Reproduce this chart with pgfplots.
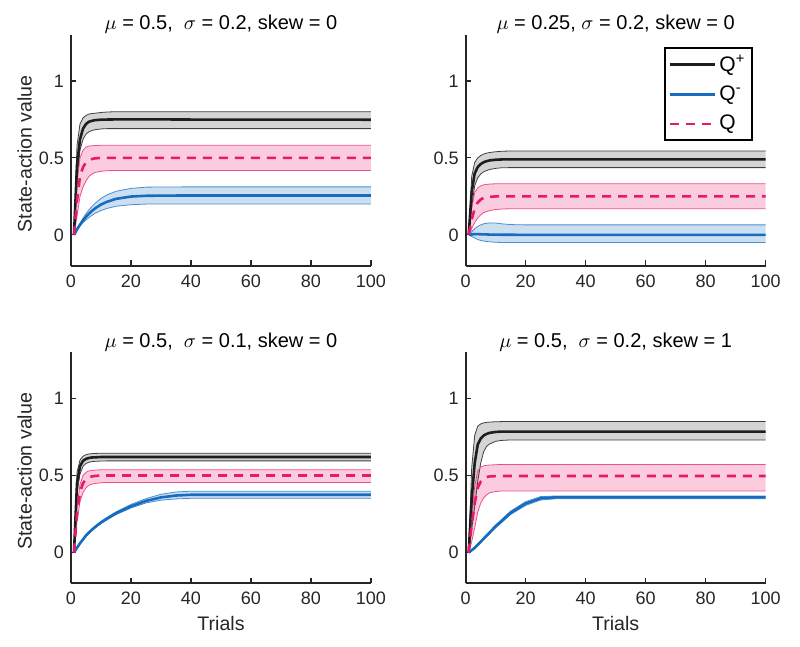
\documentclass[border=0pt]{standalone}
\usepackage{pgfplots}
\pgfplotsset{compat=1.18}
\usepackage{pgfplotstable}
\usepackage{fontspec}
\setmainfont{Liberation Sans}
\definecolor{axgray}{RGB}{38,38,38}
\definecolor{qpcol}{RGB}{30,30,30}
\definecolor{pinkcol}{RGB}{232,24,106}
\definecolor{bluecol}{RGB}{22,108,190}
\definecolor{pinkedge}{RGB}{236,80,136}
\definecolor{blueedge}{RGB}{74,142,208}

\pgfplotstableread{
t pm pu pl qm qu ql nm nu nl
1 0 0 0 0 0 0 0 0 0
2 0.45 0.58 0.35 0.22 0.33 0.12 0.035 0.040 0.030
3 0.62 0.72 0.55 0.38 0.50 0.25 0.066 0.075 0.058
4 0.69 0.76 0.62 0.44 0.55 0.31 0.093 0.108 0.080
5 0.72 0.775 0.655 0.47 0.57 0.35 0.117 0.138 0.097
6 0.735 0.785 0.67 0.485 0.577 0.38 0.138 0.163 0.113
7 0.741 0.788 0.678 0.493 0.579 0.395 0.156 0.185 0.127
8 0.745 0.79 0.683 0.497 0.58 0.405 0.172 0.205 0.140
10 0.748 0.795 0.688 0.5 0.582 0.413 0.197 0.237 0.158
12 0.749 0.798 0.69 0.5 0.582 0.417 0.215 0.260 0.172
15 0.75 0.80 0.69 0.5 0.582 0.418 0.234 0.283 0.186
20 0.75 0.80 0.69 0.5 0.582 0.418 0.249 0.302 0.196
25 0.75 0.80 0.69 0.5 0.582 0.418 0.254 0.310 0.200
30 0.75 0.80 0.69 0.5 0.582 0.418 0.255 0.311 0.200
40 0.749 0.80 0.69 0.5 0.582 0.418 0.256 0.312 0.200
100 0.748 0.80 0.69 0.5 0.582 0.418 0.256 0.312 0.200
}\tA

\pgfplotstableread{
t pm pu pl qm qu ql nm nu nl
1 0 0 0 0 0 0 0 0 0
2 0.28 0.38 0.18 0.10 0.17 0.04 0.003 0.02 -0.01
3 0.40 0.47 0.32 0.17 0.275 0.08 0.005 0.04 -0.02
4 0.44 0.50 0.37 0.21 0.305 0.11 0.005 0.055 -0.03
5 0.46 0.515 0.395 0.23 0.318 0.13 0.004 0.065 -0.036
6 0.472 0.525 0.41 0.24 0.325 0.145 0.003 0.072 -0.04
7 0.479 0.531 0.418 0.245 0.328 0.152 0.003 0.076 -0.043
8 0.484 0.535 0.425 0.247 0.33 0.158 0.002 0.078 -0.045
10 0.488 0.54 0.432 0.25 0.332 0.165 0.002 0.077 -0.048
12 0.49 0.543 0.436 0.25 0.332 0.168 0.001 0.072 -0.049
15 0.49 0.545 0.437 0.25 0.332 0.17 0.001 0.067 -0.05
20 0.49 0.545 0.437 0.25 0.332 0.17 0.0 0.065 -0.05
100 0.49 0.545 0.437 0.25 0.332 0.17 0.0 0.065 -0.05
}\tB

\pgfplotstableread{
t pm pu pl qm qu ql nm nu nl
1 0 0 0 0 0 0 0 0 0
2 0.45 0.52 0.38 0.25 0.30 0.20 0.03 0.033 0.027
3 0.56 0.60 0.51 0.39 0.44 0.33 0.06 0.064 0.056
4 0.595 0.625 0.56 0.45 0.50 0.39 0.085 0.09 0.08
5 0.608 0.635 0.578 0.475 0.52 0.42 0.11 0.115 0.105
6 0.614 0.64 0.586 0.488 0.53 0.437 0.13 0.136 0.124
7 0.617 0.642 0.59 0.494 0.533 0.444 0.148 0.154 0.142
8 0.618 0.643 0.592 0.497 0.535 0.448 0.165 0.171 0.159
10 0.62 0.645 0.594 0.5 0.537 0.453 0.195 0.202 0.188
12 0.62 0.645 0.595 0.5 0.537 0.455 0.22 0.228 0.212
15 0.62 0.645 0.595 0.5 0.537 0.455 0.255 0.264 0.246
20 0.62 0.645 0.595 0.5 0.537 0.455 0.30 0.312 0.289
25 0.62 0.645 0.595 0.5 0.537 0.455 0.335 0.35 0.322
30 0.62 0.645 0.595 0.5 0.537 0.455 0.358 0.378 0.34
35 0.62 0.645 0.595 0.5 0.537 0.455 0.37 0.393 0.348
40 0.62 0.645 0.595 0.5 0.537 0.455 0.375 0.398 0.352
100 0.62 0.645 0.595 0.5 0.537 0.455 0.375 0.398 0.352
}\tC

\pgfplotstableread{
t pm pu pl qm qu ql nm nu nl
1 0 0 0 0 0 0 0 0 0
2 0.35 0.55 0.15 0.18 0.25 0.07 0.015 0.017 0.013
3 0.58 0.76 0.30 0.32 0.43 0.16 0.03 0.033 0.027
4 0.70 0.82 0.46 0.42 0.53 0.26 0.05 0.054 0.046
5 0.74 0.835 0.58 0.46 0.555 0.32 0.07 0.075 0.065
6 0.76 0.842 0.655 0.48 0.563 0.355 0.09 0.096 0.084
7 0.77 0.845 0.69 0.49 0.566 0.375 0.11 0.117 0.103
8 0.777 0.847 0.705 0.494 0.568 0.388 0.13 0.138 0.122
10 0.783 0.849 0.722 0.496 0.57 0.396 0.17 0.179 0.161
12 0.785 0.85 0.728 0.497 0.572 0.40 0.205 0.215 0.195
15 0.785 0.851 0.731 0.497 0.572 0.40 0.258 0.269 0.247
20 0.785 0.851 0.731 0.497 0.572 0.40 0.318 0.33 0.306
25 0.785 0.851 0.731 0.497 0.572 0.40 0.352 0.363 0.341
30 0.785 0.851 0.731 0.497 0.572 0.40 0.358 0.367 0.349
100 0.785 0.851 0.731 0.497 0.572 0.40 0.358 0.367 0.349
}\tD

\pgfplotsset{
  panel/.style={
    scale only axis, width=150pt, height=115.5pt,
    xmin=0, xmax=100, ymin=-0.2, ymax=1.3,
    axis x line=bottom, axis y line=left,
    axis line style={-, line width=0.9pt, color=axgray},
    xtick={0,20,40,60,80,100}, ytick={0,0.5,1},
    tick align=inside, major tick length=2.6pt,
    tick style={line width=0.6pt, color=axgray},
    ticklabel style={font=\fontsize{9}{10}\selectfont, text=axgray},
    xticklabel style={yshift=-1pt},
    /pgf/number format/assume math mode=true,
    every axis title shift=0pt,
    title style={at={(axis description cs:0.5,1)}, anchor=base, yshift=2.6pt,
      font=\fontsize{10}{12}\selectfont, text=black},
    label style={font=\fontsize{9.8}{11}\selectfont, text=axgray},
    xlabel style={at={(axis description cs:0.5,0)}, anchor=base, yshift=-23.4pt},
    ylabel style={at={(axis description cs:-0.155,0.485)}, anchor=center},
  },
}

% #1 table, #2 grey band polygon, #3 pink band polygon, #4 blue band polygon
\newcommand{\drawpanel}[4]{%
  \addplot[forget plot, fill=black, fill opacity=0.17, draw=none] coordinates {#2};
  \addplot[forget plot, fill=pinkcol, fill opacity=0.22, draw=none] coordinates {#3};
  \addplot[forget plot, fill=bluecol, fill opacity=0.22, draw=none] coordinates {#4};
  \addplot[forget plot, draw=qpcol!85, line width=0.4pt] table[x=t,y=pu]{#1};
  \addplot[forget plot, draw=qpcol!85, line width=0.4pt] table[x=t,y=pl]{#1};
  \addplot[forget plot, draw=pinkedge, line width=0.4pt] table[x=t,y=qu]{#1};
  \addplot[forget plot, draw=pinkedge, line width=0.4pt] table[x=t,y=ql]{#1};
  \addplot[forget plot, draw=blueedge, line width=0.4pt] table[x=t,y=nu]{#1};
  \addplot[forget plot, draw=blueedge, line width=0.4pt] table[x=t,y=nl]{#1};
  \addplot[color=qpcol, line width=1.3pt] table[x=t,y=pm]{#1};
  \addplot[color=bluecol, line width=1.3pt] table[x=t,y=nm]{#1};
  \addplot[color=pinkcol, line width=1.3pt, dash pattern=on 4.5pt off 3.5pt] table[x=t,y=qm]{#1};
}

\begin{document}
\begin{tikzpicture}
\path (0,0) rectangle (400pt,-323.5pt);

\begin{axis}[panel, at={(35.5pt,-132.85pt)}, anchor=south west,
  title={$\mu$ = 0.5,\ \ $\sigma$ = 0.2, skew = 0},
  ylabel={State-action value}]
\drawpanel{\tA}
 {(1,0)(2,0.58)(3,0.72)(4,0.76)(5,0.775)(6,0.785)(7,0.788)(8,0.79)(10,0.795)(12,0.798)(15,0.8)(100,0.8)(100,0.69)(12,0.69)(10,0.688)(8,0.683)(7,0.678)(6,0.67)(5,0.655)(4,0.62)(3,0.55)(2,0.35)}
 {(1,0)(2,0.33)(3,0.5)(4,0.55)(5,0.57)(6,0.577)(7,0.579)(8,0.58)(10,0.582)(100,0.582)(100,0.418)(15,0.418)(12,0.417)(10,0.413)(8,0.405)(7,0.395)(6,0.38)(5,0.35)(4,0.31)(3,0.25)(2,0.12)}
 {(1,0)(2,0.04)(3,0.075)(4,0.108)(5,0.138)(6,0.163)(7,0.185)(8,0.205)(10,0.237)(12,0.26)(15,0.283)(20,0.302)(25,0.31)(30,0.311)(40,0.312)(100,0.312)(100,0.2)(25,0.2)(20,0.196)(15,0.186)(12,0.172)(10,0.158)(8,0.14)(7,0.127)(6,0.113)(5,0.097)(4,0.08)(3,0.058)(2,0.03)}
\end{axis}

\begin{axis}[panel, at={(232.85pt,-132.85pt)}, anchor=south west,
  title={$\mu$ = 0.25, $\sigma$ = 0.2, skew = 0},
  legend style={at={(axis description cs:0.958,0.946)}, anchor=north east,
    draw=black, line width=0.9pt, fill=white,
    font=\fontsize{10.5}{12}\selectfont, row sep=2.6pt, inner sep=1.8pt,
    nodes={inner sep=1.6pt}},
  legend cell align=left,
  legend image code/.code={\draw[#1, line width=1.3pt] (0pt,0pt) -- (22.5pt,0pt);},
  legend entries={Q\textsuperscript{+},Q\textsuperscript{-},Q}]
\drawpanel{\tB}
 {(1,0)(2,0.38)(3,0.47)(4,0.5)(5,0.515)(6,0.525)(7,0.531)(8,0.535)(10,0.54)(12,0.543)(15,0.545)(100,0.545)(100,0.437)(15,0.437)(12,0.436)(10,0.432)(8,0.425)(7,0.418)(6,0.41)(5,0.395)(4,0.37)(3,0.32)(2,0.18)}
 {(1,0)(2,0.17)(3,0.275)(4,0.305)(5,0.318)(6,0.325)(7,0.328)(8,0.33)(10,0.332)(100,0.332)(100,0.17)(15,0.17)(12,0.168)(10,0.165)(8,0.158)(7,0.152)(6,0.145)(5,0.13)(4,0.11)(3,0.08)(2,0.04)}
 {(1,0)(2,0.02)(3,0.04)(4,0.055)(5,0.065)(6,0.072)(7,0.076)(8,0.078)(10,0.077)(12,0.072)(15,0.067)(20,0.065)(100,0.065)(100,-0.05)(15,-0.05)(12,-0.049)(10,-0.048)(8,-0.045)(7,-0.043)(6,-0.04)(5,-0.036)(4,-0.03)(3,-0.02)(2,-0.01)}
\end{axis}

\begin{axis}[panel, at={(35.5pt,-291.65pt)}, anchor=south west,
  title={$\mu$ = 0.5,\ \ $\sigma$ = 0.1, skew = 0},
  ylabel={State-action value}, xlabel={Trials}]
\drawpanel{\tC}
 {(1,0)(2,0.52)(3,0.6)(4,0.625)(5,0.635)(6,0.64)(7,0.642)(8,0.643)(10,0.645)(100,0.645)(100,0.595)(12,0.595)(10,0.594)(8,0.592)(7,0.59)(6,0.586)(5,0.578)(4,0.56)(3,0.51)(2,0.38)}
 {(1,0)(2,0.3)(3,0.44)(4,0.5)(5,0.52)(6,0.53)(7,0.533)(8,0.535)(10,0.537)(100,0.537)(100,0.455)(12,0.455)(10,0.453)(8,0.448)(7,0.444)(6,0.437)(5,0.42)(4,0.39)(3,0.33)(2,0.2)}
 {(1,0)(2,0.033)(3,0.064)(4,0.09)(5,0.115)(6,0.136)(7,0.154)(8,0.171)(10,0.202)(12,0.228)(15,0.264)(20,0.312)(25,0.35)(30,0.378)(35,0.393)(40,0.398)(100,0.398)(100,0.352)(40,0.352)(35,0.348)(30,0.34)(25,0.322)(20,0.289)(15,0.246)(12,0.212)(10,0.188)(8,0.159)(7,0.142)(6,0.124)(5,0.105)(4,0.08)(3,0.056)(2,0.027)}
\end{axis}

\begin{axis}[panel, at={(232.85pt,-291.65pt)}, anchor=south west,
  title={$\mu$ = 0.5,\ \ $\sigma$ = 0.2, skew = 1},
  xlabel={Trials}]
\drawpanel{\tD}
 {(1,0)(2,0.55)(3,0.76)(4,0.82)(5,0.835)(6,0.842)(7,0.845)(8,0.847)(10,0.849)(12,0.85)(15,0.851)(100,0.851)(100,0.731)(15,0.731)(12,0.728)(10,0.722)(8,0.705)(7,0.69)(6,0.655)(5,0.58)(4,0.46)(3,0.3)(2,0.15)}
 {(1,0)(2,0.25)(3,0.43)(4,0.53)(5,0.555)(6,0.563)(7,0.566)(8,0.568)(10,0.57)(12,0.572)(100,0.572)(100,0.4)(12,0.4)(10,0.396)(8,0.388)(7,0.375)(6,0.355)(5,0.32)(4,0.26)(3,0.16)(2,0.07)}
 {(1,0)(2,0.017)(3,0.033)(4,0.054)(5,0.075)(6,0.096)(7,0.117)(8,0.138)(10,0.179)(12,0.215)(15,0.269)(20,0.33)(25,0.363)(30,0.367)(100,0.367)(100,0.349)(30,0.349)(25,0.341)(20,0.306)(15,0.247)(12,0.195)(10,0.161)(8,0.122)(7,0.103)(6,0.084)(5,0.065)(4,0.046)(3,0.027)(2,0.013)}
\end{axis}
\end{tikzpicture}
\end{document}
